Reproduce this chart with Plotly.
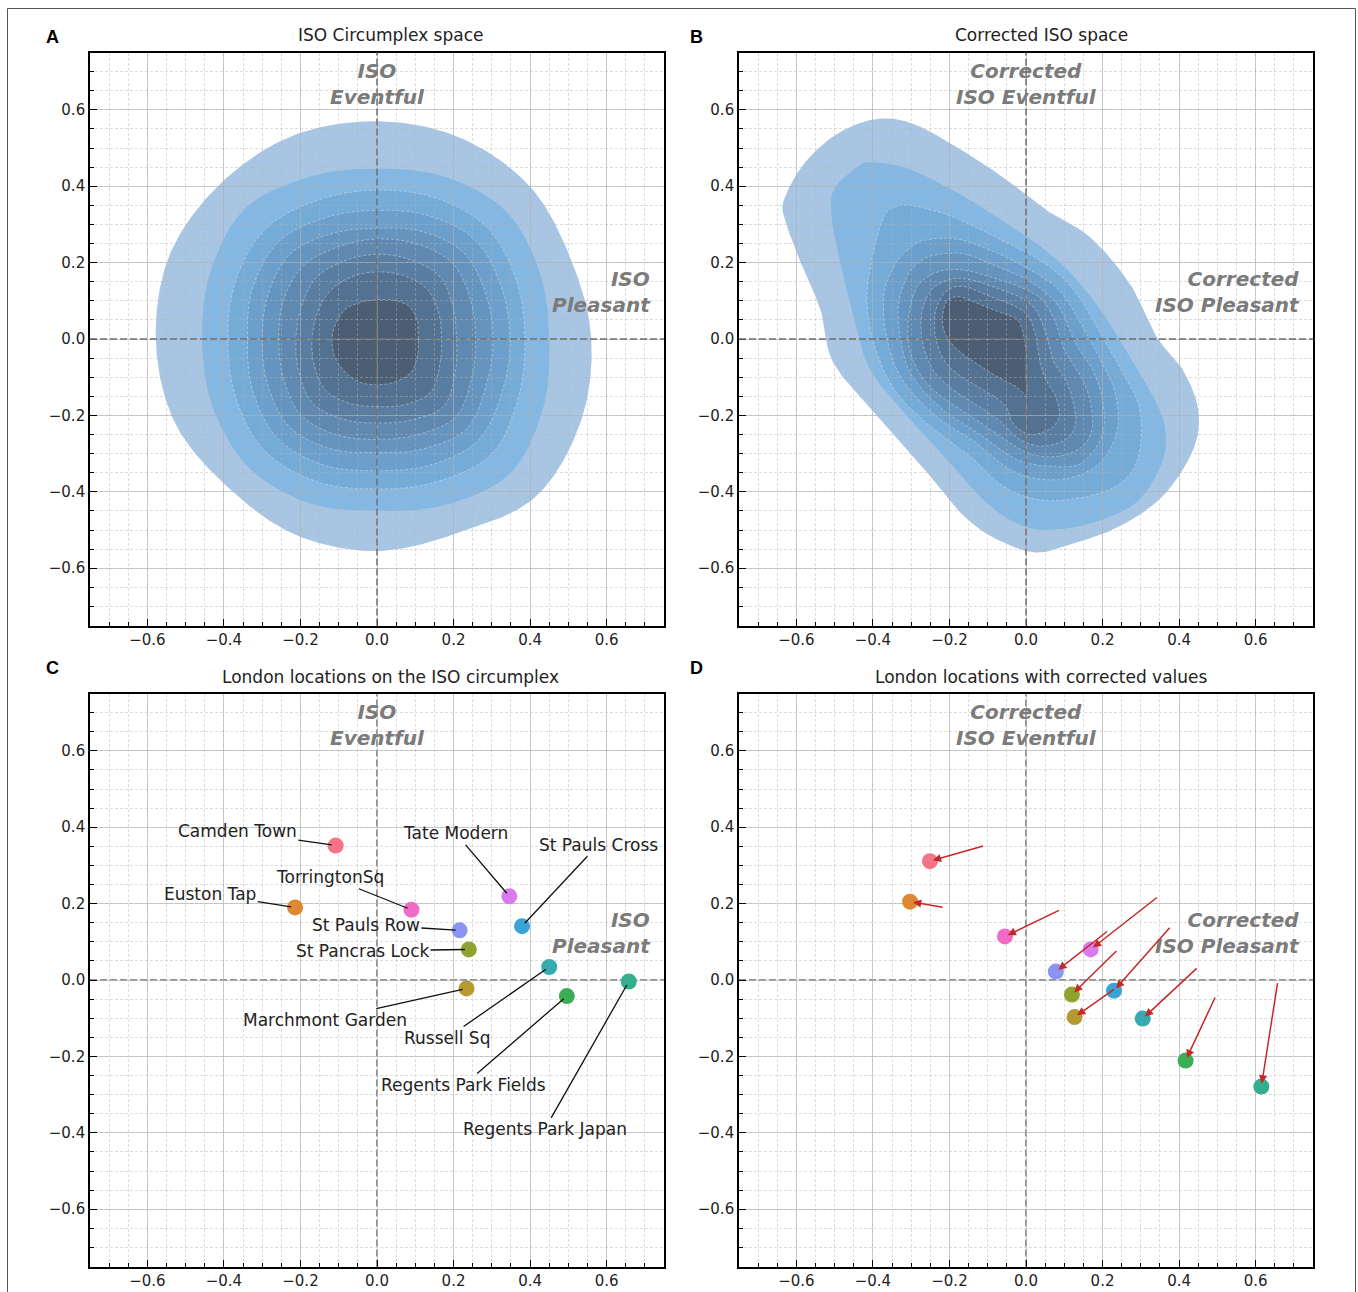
import numpy as np
import plotly.graph_objects as go

W, H = 1358, 1292

# ---------------- data ----------------
# Panel A: outlines of the 9 filled KDE density bands (outer -> inner),
# radius read at 16 angles (degrees) around the origin
kde_angles = [0, 22.5, 45, 67.5, 90, 112.5, 135, 157.5, 180, 202.5, 225, 247.5, 270, 292.5, 315, 337.5]
isoA_L1 = [0.56, 0.548, 0.565, 0.57, 0.57, 0.576, 0.577, 0.585, 0.578, 0.572, 0.55, 0.555, 0.555, 0.55, 0.585, 0.575]
isoA_L2 = [0.45, 0.46, 0.475, 0.46, 0.446, 0.46, 0.485, 0.47, 0.457, 0.465, 0.475, 0.465, 0.45, 0.47, 0.495, 0.47]
isoA_L3 = [0.387, 0.395, 0.41, 0.4, 0.39, 0.395, 0.41, 0.4, 0.39, 0.4, 0.415, 0.405, 0.393, 0.405, 0.425, 0.4]
isoA_L4 = [0.348, 0.352, 0.365, 0.35, 0.337, 0.345, 0.362, 0.352, 0.339, 0.352, 0.368, 0.358, 0.345, 0.358, 0.375, 0.355]
isoA_L5 = [0.304, 0.308, 0.32, 0.305, 0.29, 0.3, 0.318, 0.308, 0.3, 0.31, 0.325, 0.312, 0.297, 0.312, 0.332, 0.31]
isoA_L6 = [0.258, 0.265, 0.28, 0.27, 0.262, 0.262, 0.272, 0.265, 0.257, 0.265, 0.282, 0.272, 0.263, 0.272, 0.29, 0.268]
isoA_L7 = [0.208, 0.216, 0.232, 0.225, 0.222, 0.222, 0.226, 0.215, 0.212, 0.222, 0.238, 0.228, 0.22, 0.23, 0.248, 0.222]
isoA_L8 = [0.169, 0.175, 0.185, 0.18, 0.176, 0.176, 0.176, 0.17, 0.17, 0.178, 0.19, 0.183, 0.177, 0.187, 0.198, 0.178]
isoA_L9 = [0.108, 0.115, 0.12, 0.11, 0.103, 0.105, 0.113, 0.115, 0.118, 0.12, 0.12, 0.122, 0.12, 0.122, 0.125, 0.115]
isoA_levels = [isoA_L1, isoA_L2, isoA_L3, isoA_L4, isoA_L5, isoA_L6, isoA_L7, isoA_L8, isoA_L9]

# Panel B: outlines of the 9 corrected-space density bands (pleasant, eventful)
corrB_L1_x = [-0.633, -0.581, -0.494, -0.39, -0.294, -0.181, -0.059, 0.054, 0.167, 0.271, 0.341, 0.41, 0.45, 0.437, 0.358, 0.245, 0.132, 0.028, -0.077, -0.163, -0.25, -0.381, -0.503, -0.537, -0.598, -0.629]
corrB_L1_y = [0.363, 0.458, 0.537, 0.576, 0.563, 0.502, 0.423, 0.337, 0.267, 0.145, 0.006, -0.081, -0.185, -0.29, -0.411, -0.49, -0.533, -0.559, -0.524, -0.463, -0.359, -0.211, -0.063, 0.076, 0.223, 0.31]
corrB_L2_x = [-0.507, -0.503, -0.442, -0.407, -0.32, -0.23, -0.14, -0.05, 0.028, 0.11, 0.2, 0.28, 0.332, 0.363, 0.358, 0.297, 0.202, 0.089, -0.007, -0.103, -0.198, -0.303, -0.407, -0.45, -0.481]
corrB_L2_y = [0.31, 0.389, 0.45, 0.463, 0.45, 0.41, 0.36, 0.3, 0.25, 0.18, 0.07, -0.063, -0.15, -0.229, -0.316, -0.42, -0.472, -0.498, -0.49, -0.429, -0.324, -0.211, -0.081, 0.058, 0.18]
corrB_L3_x = [-0.372, -0.346, -0.303, -0.202, -0.083, 0.009, 0.082, 0.143, 0.203, 0.254, 0.293, 0.302, 0.28, 0.219, 0.115, 0.028, -0.059, -0.146, -0.264, -0.348, -0.398, -0.416, -0.398]
corrB_L3_y = [0.319, 0.345, 0.35, 0.324, 0.269, 0.222, 0.173, 0.104, -0.001, -0.09, -0.168, -0.255, -0.342, -0.394, -0.42, -0.42, -0.386, -0.307, -0.217, -0.127, -0.011, 0.11, 0.232]
corrB_L4_x = [-0.311, -0.268, -0.181, -0.087, 0.0, 0.084, 0.136, 0.188, 0.23, 0.24, 0.202, 0.132, 0.045, -0.042, -0.129, -0.234, -0.322, -0.363, -0.372, -0.346]
corrB_L4_y = [0.232, 0.258, 0.262, 0.23, 0.187, 0.131, 0.053, -0.042, -0.13, -0.23, -0.316, -0.359, -0.368, -0.342, -0.272, -0.203, -0.109, -0.003, 0.11, 0.189]
corrB_L5_x = [-0.285, -0.242, -0.163, -0.077, 0.009, 0.084, 0.127, 0.175, 0.2, 0.2, 0.145, 0.063, -0.024, -0.111, -0.216, -0.299, -0.329, -0.333, -0.311]
corrB_L5_y = [0.197, 0.219, 0.223, 0.189, 0.152, 0.088, -0.008, -0.082, -0.16, -0.25, -0.325, -0.333, -0.316, -0.255, -0.186, -0.095, 0.006, 0.093, 0.163]
corrB_L6_x = [-0.296, -0.27, -0.217, -0.157, -0.096, -0.017, 0.043, 0.078, 0.1, 0.139, 0.165, 0.174, 0.148, 0.087, 0.017, -0.043, -0.104, -0.183, -0.252, -0.296, -0.309]
corrB_L6_y = [0.11, 0.154, 0.18, 0.18, 0.163, 0.137, 0.102, 0.041, -0.029, -0.09, -0.15, -0.229, -0.281, -0.307, -0.303, -0.272, -0.229, -0.177, -0.124, -0.055, 0.023]
corrB_L7_x = [-0.261, -0.239, -0.191, -0.139, -0.087, -0.017, 0.026, 0.052, 0.07, 0.104, 0.122, 0.13, 0.104, 0.043, -0.017, -0.061, -0.122, -0.191, -0.243, -0.27, -0.274]
corrB_L7_y = [0.106, 0.137, 0.158, 0.154, 0.137, 0.11, 0.076, 0.015, -0.055, -0.107, -0.159, -0.22, -0.263, -0.281, -0.263, -0.22, -0.177, -0.133, -0.081, -0.011, 0.058]
corrB_L8_x = [-0.226, -0.2, -0.157, -0.104, -0.043, 0.004, 0.026, 0.035, 0.052, 0.078, 0.087, 0.061, 0.009, -0.035, -0.052, -0.096, -0.157, -0.209, -0.235, -0.239]
corrB_L8_y = [0.102, 0.132, 0.137, 0.115, 0.093, 0.063, 0.006, -0.055, -0.107, -0.15, -0.203, -0.237, -0.25, -0.22, -0.177, -0.142, -0.107, -0.063, -0.003, 0.058]
corrB_L9_x = [-0.215, -0.2, -0.17, -0.13, -0.078, -0.026, -0.007, 0.0, 0.0, 0.002, -0.026, -0.061, -0.104, -0.157, -0.196, -0.217]
corrB_L9_y = [0.08, 0.105, 0.11, 0.093, 0.074, 0.054, 0.015, -0.037, -0.098, -0.146, -0.124, -0.107, -0.081, -0.046, -0.011, 0.032]
corrB_levels = [
    (corrB_L1_x, corrB_L1_y), (corrB_L2_x, corrB_L2_y), (corrB_L3_x, corrB_L3_y),
    (corrB_L4_x, corrB_L4_y), (corrB_L5_x, corrB_L5_y), (corrB_L6_x, corrB_L6_y),
    (corrB_L7_x, corrB_L7_y), (corrB_L8_x, corrB_L8_y), (corrB_L9_x, corrB_L9_y),
]

# Panels C & D: London locations
locations = ['Camden Town', 'Euston Tap', 'Marchmont Garden', 'St Pancras Lock',
             'Regents Park Fields', 'Regents Park Japan', 'Russell Sq', 'St Pauls Cross',
             'St Pauls Row', 'Tate Modern', 'TorringtonSq']
iso_pleasant = [-0.108, -0.214, 0.234, 0.240, 0.496, 0.658, 0.450, 0.379, 0.216, 0.346, 0.090]
iso_eventful = [0.352, 0.190, -0.022, 0.080, -0.042, -0.004, 0.034, 0.141, 0.130, 0.219, 0.184]
corr_pleasant = [-0.251, -0.303, 0.127, 0.120, 0.417, 0.615, 0.305, 0.230, 0.078, 0.169, -0.055]
corr_eventful = [0.311, 0.205, -0.097, -0.038, -0.211, -0.279, -0.101, -0.028, 0.022, 0.080, 0.114]

tick_vals = [-0.6, -0.4, -0.2, 0.0, 0.2, 0.4, 0.6]

# ---------------- styles / layout helpers ----------------
loc_colors = ['#f47389', '#de8832', '#b49a31', '#8fa331', '#3bae55', '#35ad8f',
              '#37aab0', '#3ba4d7', '#8a94f2', '#d97bee', '#f06cc6']
band_colors = ['#a8c6e3', '#84b8e2', '#75abd7', '#6c9fcb', '#6594be', '#5f89b0',
               '#597ea2', '#537292', '#4b5e73']

# label anchor positions for panel C (text centres, data units)
label_pos = {
    'Camden Town': (-0.365, 0.389), 'Euston Tap': (-0.436, 0.225),
    'TorringtonSq': (-0.123, 0.269), 'Tate Modern': (0.206, 0.384),
    'St Pauls Cross': (0.578, 0.354), 'St Pauls Row': (-0.029, 0.145),
    'St Pancras Lock': (-0.038, 0.076), 'Marchmont Garden': (-0.136, -0.105),
    'Russell Sq': (0.183, -0.152), 'Regents Park Fields': (0.227, -0.275),
    'Regents Park Japan': (0.438, -0.391),
}


def closed_curve(xs, ys, n=24):
    P = np.column_stack([xs, ys]).astype(float)
    N = len(P)
    t = np.linspace(0, 1, n, endpoint=False)[:, None]
    segs = []
    for i in range(N):
        p0, p1, p2, p3 = P[i - 1], P[i], P[(i + 1) % N], P[(i + 2) % N]
        segs.append(0.5 * (2 * p1 + (-p0 + p2) * t + (2 * p0 - 5 * p1 + 4 * p2 - p3) * t ** 2
                           + (-p0 + 3 * p1 - 3 * p2 + p3) * t ** 3))
    C = np.vstack(segs + [segs[0][:1]])
    return C[:, 0], C[:, 1]


def band_trace(cx, cy, k, xa, ya):
    if k >= 2:
        line = dict(color='rgba(230,236,244,0.55)', width=0.8, dash='3px,2px')
    else:
        line = dict(width=0)
    return go.Scatter(x=cx, y=cy, mode='lines', fill='toself', fillcolor=band_colors[k],
                      line=line, xaxis=xa, yaxis=ya, hoverinfo='skip', showlegend=False)


fig = go.Figure()

th = np.deg2rad(kde_angles)
for k, radii in enumerate(isoA_levels):
    r = np.array(radii)
    cx, cy = closed_curve(r * np.cos(th), r * np.sin(th))
    fig.add_trace(band_trace(cx, cy, k, 'x', 'y'))

for k, (bx, by) in enumerate(corrB_levels):
    cx, cy = closed_curve(bx, by)
    fig.add_trace(band_trace(cx, cy, k, 'x2', 'y2'))

fig.add_trace(go.Scatter(x=[None], y=[None], xaxis='x3', yaxis='y3', showlegend=False, hoverinfo='skip'))
fig.add_trace(go.Scatter(x=[None], y=[None], xaxis='x4', yaxis='y4', showlegend=False, hoverinfo='skip'))

fig.add_trace(go.Scatter(x=iso_pleasant, y=iso_eventful, mode='markers', xaxis='x5', yaxis='y5',
                         marker=dict(size=16, color=loc_colors, line=dict(width=0)),
                         text=locations, hoverinfo='text', showlegend=False))
fig.add_trace(go.Scatter(x=corr_pleasant, y=corr_eventful, mode='markers', xaxis='x6', yaxis='y6',
                         marker=dict(size=16, color=loc_colors, line=dict(width=0)),
                         text=locations, hoverinfo='text', showlegend=False))


def xdom(a, b):
    return [a / W, b / W]


def ydom(top, bottom):
    return [1 - bottom / H, 1 - top / H]


def px(x):
    return x / W


def py(y):
    return 1 - y / H


colA = xdom(90, 664)
colB = xdom(739, 1313)
rowT = ydom(52.5, 625.5)
rowC = ydom(693.5, 1266.5)

RNG = [-0.75, 0.75]


def hidden_axis(domain, anchor):
    return dict(domain=domain, anchor=anchor, range=RNG, visible=False, fixedrange=True)


def frame_axis(domain, anchor):
    return dict(
        domain=domain, anchor=anchor, range=RNG, tickmode='array', tickvals=tick_vals,
        tickformat='.1f', ticks='inside', ticklen=7, tickwidth=1.2, tickcolor='black',
        showline=True, linecolor='black', linewidth=1.6, mirror=True,
        showgrid=True, gridcolor='rgba(175,175,175,0.6)', gridwidth=1, zeroline=False,
        minor=dict(dtick=0.05, tick0=0, ticks='inside', ticklen=4, tickwidth=1,
                   tickcolor='black', showgrid=True, gridcolor='rgba(180,180,180,0.45)',
                   griddash='3px,2px', gridwidth=0.8),
        tickfont=dict(family='DejaVu Sans', size=15, color='#222'), fixedrange=True,
    )


fig.update_layout(
    width=W, height=H, margin=dict(l=0, r=0, t=0, b=0),
    paper_bgcolor='white', plot_bgcolor='rgba(0,0,0,0)', showlegend=False,
    font=dict(family='DejaVu Sans', color='#222'),
    xaxis=hidden_axis(colA, 'y'), yaxis=hidden_axis(rowT, 'x'),
    xaxis2=hidden_axis(colB, 'y2'), yaxis2=hidden_axis(rowT, 'x2'),
    xaxis3=frame_axis(colA, 'y3'), yaxis3=frame_axis(rowT, 'x3'),
    xaxis4=frame_axis(colB, 'y4'), yaxis4=frame_axis(rowT, 'x4'),
    xaxis5=frame_axis(colA, 'y5'), yaxis5=frame_axis(rowC, 'x5'),
    xaxis6=frame_axis(colB, 'y6'), yaxis6=frame_axis(rowC, 'x6'),
)

shapes = []
for n in ['3', '4', '5', '6']:
    layer = 'above' if n in ('3', '4') else 'below'
    shapes.append(dict(type='line', xref='x' + n, yref='y' + n + ' domain', x0=0, x1=0, y0=0, y1=1,
                       line=dict(color='#707070', width=1.5, dash='7px,3px'), layer=layer))
    shapes.append(dict(type='line', xref='x' + n + ' domain', yref='y' + n, x0=0, x1=1, y0=0, y1=0,
                       line=dict(color='#707070', width=1.5, dash='7px,3px'), layer=layer))
shapes.append(dict(type='rect', xref='paper', yref='paper', x0=7.5 / W, x1=1355.5 / W, y0=-0.05,
                   y1=1 - 8.5 / H, line=dict(color='#555', width=1), fillcolor='rgba(0,0,0,0)',
                   layer='above'))
fig.update_layout(shapes=shapes)

ann = []
for letter, lx, ly in [('A', 52, 37), ('B', 697, 37), ('C', 52, 668), ('D', 697, 668)]:
    ann.append(dict(text='<b>' + letter + '</b>', xref='paper', yref='paper', x=px(lx), y=py(ly),
                    showarrow=False, xanchor='center', yanchor='middle',
                    font=dict(family='Liberation Sans', size=18, color='black')))
for title, tx, ty in [('ISO Circumplex space', 391, 35), ('Corrected ISO space', 1041, 35),
                      ('London locations on the ISO circumplex', 391, 677),
                      ('London locations with corrected values', 1041, 677)]:
    ann.append(dict(text=title, xref='paper', yref='paper', x=px(tx), y=py(ty), showarrow=False,
                    xanchor='center', yanchor='middle',
                    font=dict(family='DejaVu Sans', size=17, color='#222')))

LBL = dict(family='DejaVu Sans', size=20, color='#7b7b7b')
for n, corrected in [('3', False), ('4', True), ('5', False), ('6', True)]:
    if corrected:
        ev = '<b><i>Corrected</i></b><br><b><i>ISO Eventful</i></b>'
        pl = '<b><i>Corrected</i></b><br><b><i>ISO Pleasant</i></b>'
    else:
        ev = '<b><i>ISO</i></b><br><b><i>Eventful</i></b>'
        pl = '<b><i>ISO</i></b><br><b><i>Pleasant</i></b>'
    ann.append(dict(text=ev, xref='x' + n, yref='y' + n, x=0.0, y=0.668, showarrow=False,
                    xanchor='center', yanchor='middle', align='center', font=LBL))
    ann.append(dict(text=pl, xref='x' + n, yref='y' + n, x=0.72, y=0.124, showarrow=False,
                    xanchor='right', yanchor='middle', align='right', font=LBL))

for name, x_, y_ in zip(locations, iso_pleasant, iso_eventful):
    tx, ty = label_pos[name]
    ann.append(dict(text=name, x=x_, y=y_, xref='x5', yref='y5', ax=tx, ay=ty, axref='x5', ayref='y5',
                    showarrow=True, arrowhead=0, arrowwidth=1.3, arrowcolor='#111', standoff=4,
                    font=dict(family='DejaVu Sans', size=17, color='#222')))

for x0, y0, x1, y1 in zip(iso_pleasant, iso_eventful, corr_pleasant, corr_eventful):
    ann.append(dict(text='', x=x1, y=y1, xref='x6', yref='y6', ax=x0, ay=y0, axref='x6', ayref='y6',
                    showarrow=True, arrowhead=2, arrowsize=1.1, arrowwidth=1.5, arrowcolor='#c62828',
                    standoff=3))

fig.update_layout(annotations=ann)

# make the figure fill the page exactly (no default body margin / scrollbars)
page_css = ("document.documentElement.style.margin='0';document.body.style.margin='0';"
            "document.body.style.padding='0';document.body.style.overflow='hidden';"
            "document.documentElement.style.overflow='hidden';")
fig.write_html('out.html', post_script=page_css, config={'displayModeBar': False})
